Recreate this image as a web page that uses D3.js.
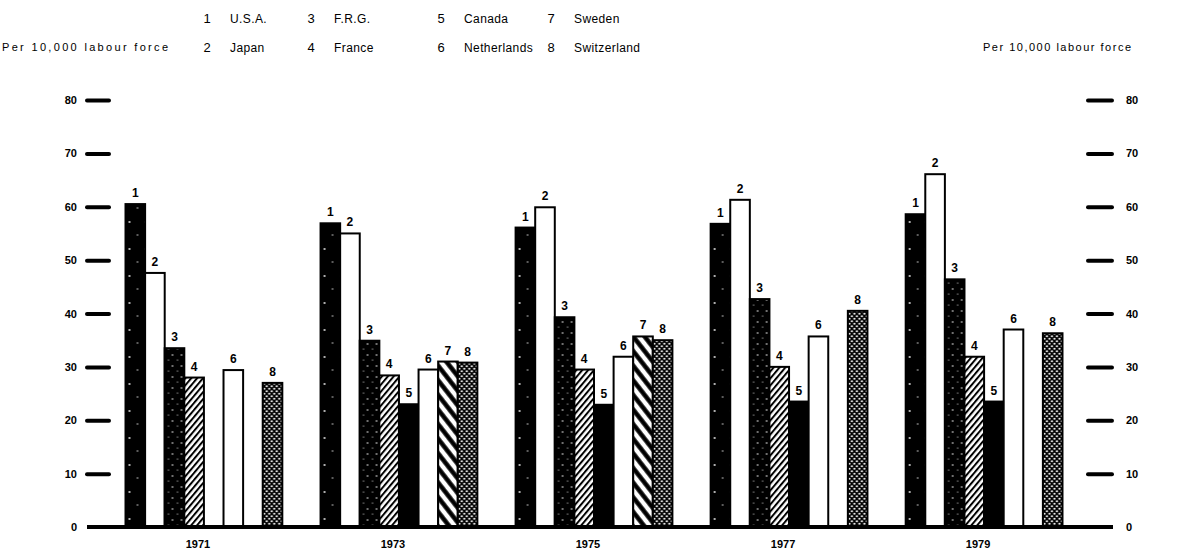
<!DOCTYPE html>
<html>
<head>
<meta charset="utf-8">
<script src="https://cdn.jsdelivr.net/npm/d3@7"></script>
<style>
    body { margin: 0; background: #fff; }
    svg { display: block; font-family: "Liberation Sans", "DejaVu Sans", sans-serif; }
</style>
</head>
<body>
<div class="chart__container"></div>
<script>
// years on the x axis
const years = ['1971', '1973', '1975', '1977', '1979'];
// country names, in legend / bar order
const countries = ['U.S.A.', 'Japan', 'F.R.G.', 'France', 'Canada', 'Netherlands', 'Sweden', 'Switzerland'];
// per 10,000 labour force, one value per year (null = no bar)
const usa = [60.5, 56.9, 56.1, 56.8, 58.6];
const japan = [47.6, 55.0, 59.9, 61.3, 66.1];
const frg = [33.5, 34.9, 39.3, 42.7, 46.4];
const france = [28.0, 28.4, 29.5, 30.0, 31.9];
const canada = [null, 23.0, 22.9, 23.5, 23.5];
const netherlands = [29.4, 29.5, 31.9, 35.7, 37.0];
const sweden = [null, 31.0, 35.7, null, null];
const switzerland = [27.0, 30.8, 35.0, 40.5, 36.3];
const yTicks = [0, 10, 20, 30, 40, 50, 60, 70, 80];
const axisTitle = 'Per 10,000 labour force';

function whenDocumentLoaded(action) {
    if (document.readyState === "loading") {
        document.addEventListener("DOMContentLoaded", action);
    } else {
        action();
    }
}

function drawChart() {
    const width = 1190, height = 555;
    const series = [usa, japan, frg, france, canada, netherlands, sweden, switzerland];

    const svg = d3.select('.chart__container')
        .append('svg')
        .attr('width', width)
        .attr('height', height);

    // fills for the eight countries
    const defs = svg.append('defs');

    // 1 - black, a few white specks
    const p1 = defs.append('pattern').attr('id', 'p1')
        .attr('patternUnits', 'userSpaceOnUse').attr('width', 16).attr('height', 27);
    p1.append('rect').attr('width', 16).attr('height', 27).attr('fill', '#000');
    p1.append('circle').attr('cx', 4).attr('cy', 6).attr('r', 0.9).attr('fill', '#fff');
    p1.append('circle').attr('cx', 12).attr('cy', 19).attr('r', 0.7).attr('fill', '#fff');

    // 3 - black, dense specks
    const p3 = defs.append('pattern').attr('id', 'p3')
        .attr('patternUnits', 'userSpaceOnUse').attr('width', 9).attr('height', 11);
    p3.append('rect').attr('width', 9).attr('height', 11).attr('fill', '#000');
    p3.append('circle').attr('cx', 2).attr('cy', 3).attr('r', 0.8).attr('fill', '#fff');
    p3.append('circle').attr('cx', 7).attr('cy', 8).attr('r', 0.6).attr('fill', '#fff');

    // 4 - fine "/" hatching
    const p4 = defs.append('pattern').attr('id', 'p4')
        .attr('patternUnits', 'userSpaceOnUse').attr('width', 4.5).attr('height', 10)
        .attr('patternTransform', 'rotate(40)');
    p4.append('rect').attr('width', 4.5).attr('height', 10).attr('fill', '#fff');
    p4.append('line').attr('x1', 1).attr('y1', 0).attr('x2', 1).attr('y2', 10)
        .attr('stroke', '#000').attr('stroke-width', 2);

    // 7 - bold "\" stripes
    const p7 = defs.append('pattern').attr('id', 'p7')
        .attr('patternUnits', 'userSpaceOnUse').attr('width', 9).attr('height', 10)
        .attr('patternTransform', 'rotate(-38)');
    p7.append('rect').attr('width', 9).attr('height', 10).attr('fill', '#fff');
    p7.append('line').attr('x1', 2.5).attr('y1', 0).attr('x2', 2.5).attr('y2', 10)
        .attr('stroke', '#000').attr('stroke-width', 4.5);

    // 8 - black with white dots
    const p8 = defs.append('pattern').attr('id', 'p8')
        .attr('patternUnits', 'userSpaceOnUse').attr('width', 5).attr('height', 5);
    p8.append('rect').attr('width', 5).attr('height', 5).attr('fill', '#000');
    p8.append('circle').attr('cx', 1.25).attr('cy', 1.25).attr('r', 1.1).attr('fill', '#fff');
    p8.append('circle').attr('cx', 3.75).attr('cy', 3.75).attr('r', 1.1).attr('fill', '#fff');

    const fills = ['url(#p1)', '#fff', 'url(#p3)', 'url(#p4)', '#000', '#fff', 'url(#p7)', 'url(#p8)'];

    // scales
    const y = d3.scaleLinear().domain([0, 80]).range([527, 100]);
    const x0 = d3.scaleBand().domain(years).range([106, 1082])
        .paddingInner(0.196).paddingOuter(0.1);
    const x1 = d3.scaleBand().domain(d3.range(series.length)).range([0, x0.bandwidth()]);

    // axes: short heavy dashes, no domain line
    const leftAxis = svg.append('g')
        .attr('transform', 'translate(109,0)')
        .call(d3.axisLeft(y).tickValues(yTicks).tickSize(22).tickPadding(10));
    const rightAxis = svg.append('g')
        .attr('transform', 'translate(1088,0)')
        .call(d3.axisRight(y).tickValues(yTicks).tickSize(24).tickPadding(14));

    [leftAxis, rightAxis].forEach(function(ax) {
        ax.select('.domain').remove();
        ax.selectAll('.tick line')
            .attr('stroke', '#000')
            .attr('stroke-width', 4)
            .attr('stroke-linecap', 'round');
        ax.selectAll('.tick text')
            .style('font-size', '11px')
            .style('font-weight', 'bold')
            .attr('fill', '#000');
    });
    // 0 tick sits on the baseline, only its label shows
    leftAxis.selectAll('.tick').filter(function(d) { return d === 0; }).select('line').remove();
    rightAxis.selectAll('.tick').filter(function(d) { return d === 0; }).select('line').remove();

    // bars
    const groups = svg.append('g')
        .selectAll('g')
        .data(years)
        .enter()
        .append('g')
        .attr('transform', function(d) { return 'translate(' + x0(d) + ',0)'; });

    const cells = groups.selectAll('g')
        .data(function(d, yi) {
            return series.map(function(s, si) { return { si: si, value: s[yi] }; })
                .filter(function(c) { return c.value !== null; });
        })
        .enter()
        .append('g');

    cells.append('rect')
        .attr('x', function(d) { return x1(d.si); })
        .attr('y', function(d) { return y(d.value); })
        .attr('width', x1.bandwidth())
        .attr('height', function(d) { return y(0) - y(d.value); })
        .attr('fill', function(d) { return fills[d.si]; })
        .attr('stroke', '#000')
        .attr('stroke-width', 2);

    cells.append('text')
        .attr('x', function(d) { return x1(d.si) + x1.bandwidth() / 2; })
        .attr('y', function(d) { return y(d.value) - 7; })
        .attr('text-anchor', 'middle')
        .style('font-size', '12px')
        .style('font-weight', 'bold')
        .text(function(d) { return d.si + 1; });

    // baseline
    svg.append('line')
        .attr('x1', 87).attr('x2', 1113)
        .attr('y1', y(0)).attr('y2', y(0))
        .attr('stroke', '#000')
        .attr('stroke-width', 4);

    // year labels
    svg.append('g')
        .selectAll('text')
        .data(years)
        .enter()
        .append('text')
        .attr('x', function(d) { return x0(d) + x0.bandwidth() / 2 - 6; })
        .attr('y', 548)
        .attr('text-anchor', 'middle')
        .style('font-size', '11px')
        .style('font-weight', 'bold')
        .text(function(d) { return d; });

    // legend: four columns, two rows
    const legendCols = [207, 311, 441, 551];
    const legendRows = [23, 52];
    const legend = svg.append('g')
        .selectAll('g')
        .data(countries)
        .enter()
        .append('g')
        .attr('transform', function(d, i) {
            return 'translate(' + legendCols[Math.floor(i / 2)] + ',' + legendRows[i % 2] + ')';
        });
    legend.append('text')
        .attr('text-anchor', 'middle')
        .style('font-size', '13px')
        .text(function(d, i) { return i + 1; });
    legend.append('text')
        .attr('x', 23)
        .style('font-size', '12px')
        .style('letter-spacing', '0.4px')
        .text(function(d) { return d; });

    // axis titles
    svg.append('text')
        .attr('x', 2).attr('y', 51)
        .attr('textLength', 166)
        .attr('lengthAdjust', 'spacing')
        .style('font-size', '11px')
        .text(axisTitle);
    svg.append('text')
        .attr('x', 983).attr('y', 51)
        .attr('textLength', 148)
        .attr('lengthAdjust', 'spacing')
        .style('font-size', '11px')
        .text(axisTitle);
}

whenDocumentLoaded(() => {
    drawChart();
});
</script>
</body>
</html>
